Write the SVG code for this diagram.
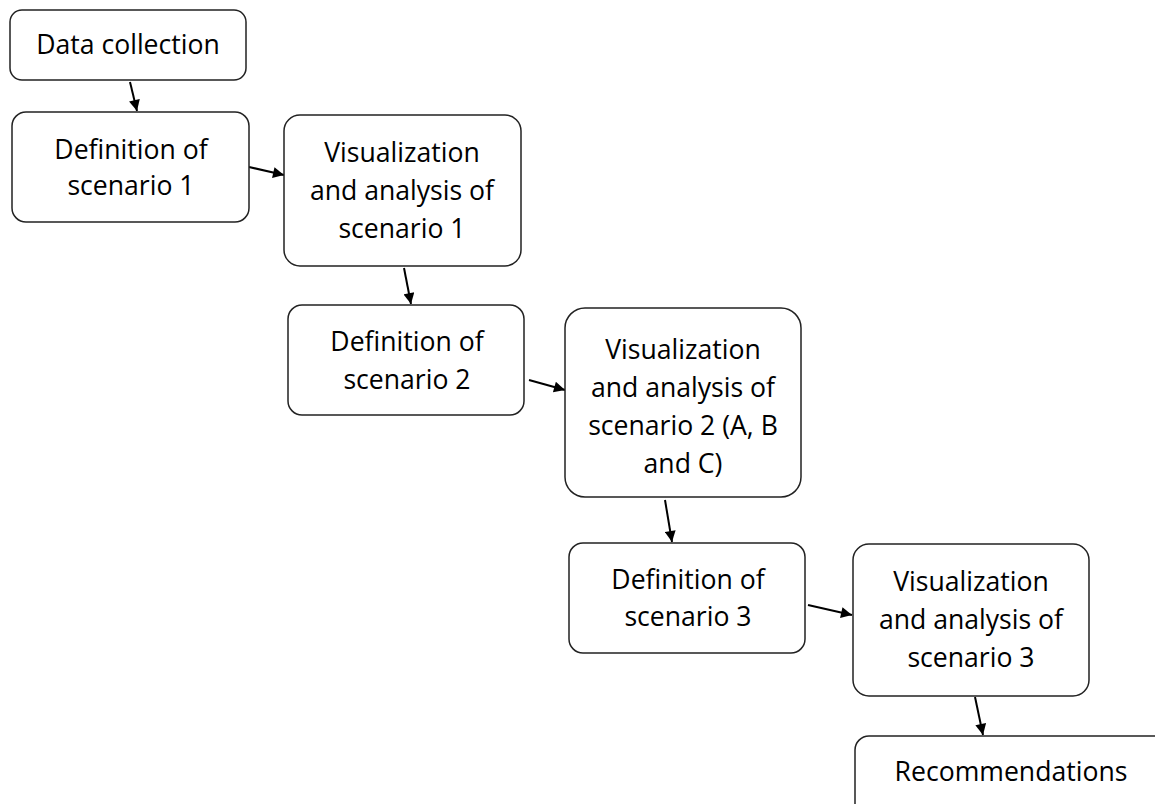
<svg xmlns="http://www.w3.org/2000/svg" width="1155" height="804" viewBox="0 0 1155 804">
<defs>
<style>
.box{fill:#fff;stroke:#222;stroke-width:1.5}
.t{font-family:"Open Sans","Liberation Sans",sans-serif;font-size:26.6px;fill:#000;text-anchor:middle}
.c{stroke:#000;stroke-width:2;fill:none;marker-end:url(#ah)}
</style>
<marker id="ah" viewBox="0 0 10 10" refX="10" refY="5" markerWidth="12" markerHeight="11" markerUnits="userSpaceOnUse" orient="auto">
<path d="M0,0 L10,5 L0,10 z" fill="#000"/>
</marker>
</defs>
<rect width="1155" height="804" fill="#fff"/>
<g id="connectors">
<line class="c" x1="130" y1="82" x2="137" y2="111"/>
<line class="c" x1="249" y1="167" x2="284" y2="175"/>
<line class="c" x1="404" y1="268" x2="411" y2="304"/>
<line class="c" x1="529" y1="380" x2="565" y2="390"/>
<line class="c" x1="665" y1="500" x2="672" y2="542"/>
<line class="c" x1="808" y1="605" x2="852" y2="615"/>
<line class="c" x1="975" y1="697" x2="983" y2="735"/>
</g>
<g id="n1"><rect class="box" x="10" y="10" width="236" height="70" rx="12"/><text class="t" x="128" y="54">Data collection</text></g>
<g id="n2"><rect class="box" x="12" y="112" width="237" height="110" rx="14"/><text class="t" x="131" y="159">Definition of</text><text class="t" x="131" y="195">scenario 1</text></g>
<g id="n3"><rect class="box" x="284" y="115" width="237" height="151" rx="16"/><text class="t" x="402" y="162">Visualization</text><text class="t" x="402" y="200">and analysis of</text><text class="t" x="402" y="238">scenario 1</text></g>
<g id="n4"><rect class="box" x="288" y="305" width="236" height="110" rx="14"/><text class="t" x="407" y="351">Definition of</text><text class="t" x="407" y="389">scenario 2</text></g>
<g id="n5"><rect class="box" x="565" y="308" width="236" height="189" rx="20"/><text class="t" x="683" y="359">Visualization</text><text class="t" x="683" y="397">and analysis of</text><text class="t" x="683" y="435">scenario 2 (A, B</text><text class="t" x="683" y="473">and C)</text></g>
<g id="n6"><rect class="box" x="569" y="543" width="236" height="110" rx="14"/><text class="t" x="688" y="589">Definition of</text><text class="t" x="688" y="626">scenario 3</text></g>
<g id="n7"><rect class="box" x="853" y="544" width="236" height="152" rx="16"/><text class="t" x="971" y="591">Visualization</text><text class="t" x="971" y="629">and analysis of</text><text class="t" x="971" y="667">scenario 3</text></g>
<g id="n8"><rect class="box" x="855" y="736" width="320" height="100" rx="14"/><text class="t" x="1011" y="781">Recommendations</text></g>
</svg>
